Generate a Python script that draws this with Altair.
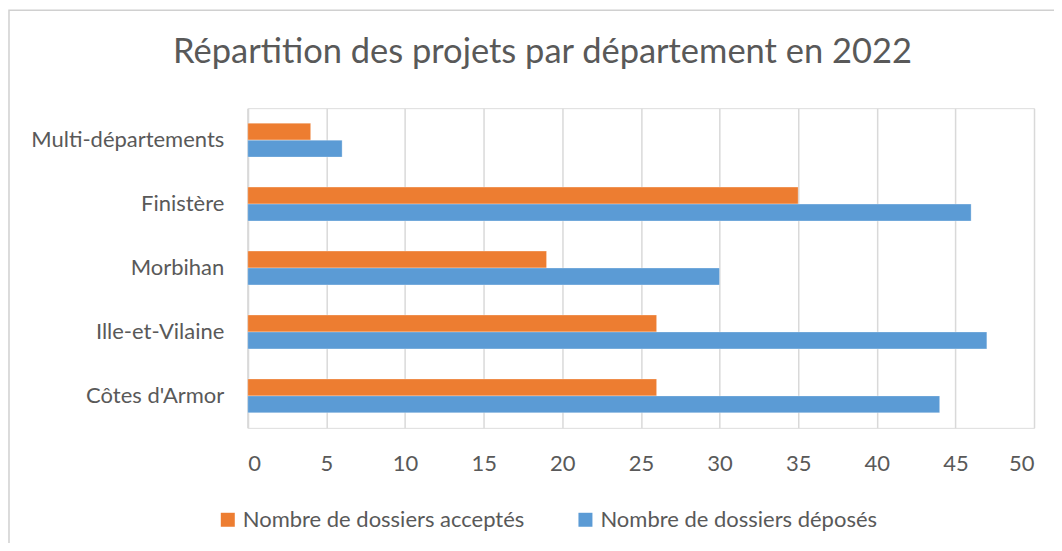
import altair as alt
import pandas as pd

categories = ["Multi-départements", "Finistère", "Morbihan", "Ille-et-Vilaine", "Côtes d'Armor"]
acceptes = [4, 35, 19, 26, 26]
deposes = [6, 46, 30, 47, 44]
series = ["Nombre de dossiers acceptés", "Nombre de dossiers déposés"]
colors = ["#ED7D31", "#5B9BD5"]
title_text = "Répartition des projets par département en 2022"

rows = []
for c, a, d in zip(categories, acceptes, deposes):
    rows.append({"dep": c, "serie": series[0], "val": a})
    rows.append({"dep": c, "serie": series[1], "val": d})
df = pd.DataFrame(rows)

FONT = "Lato"
GREY = "#595959"
FS = 22

bars = alt.Chart(df).mark_bar(stroke="white", strokeWidth=0.5, strokeOpacity=0.6).encode(
    x=alt.X("val:Q", scale=alt.Scale(domain=[0, 50], nice=False),
            axis=alt.Axis(values=list(range(0, 51, 5)), title=None, grid=True,
                          gridColor="#D9D9D9", gridWidth=1.5, domain=False, ticks=False,
                          labelPadding=26, labelFontSize=FS, labelColor=GREY, labelFont=FONT)),
    y=alt.Y("dep:N", sort=categories,
            scale=alt.Scale(paddingInner=0.47, paddingOuter=0.235),
            axis=alt.Axis(title=None, ticks=False, domain=True, domainColor="#D9D9D9",
                          domainWidth=2, labelPadding=24, labelFontSize=FS,
                          labelColor=GREY, labelFont=FONT, labelLimit=0)),
    yOffset=alt.YOffset("serie:N", sort=series),
    color=alt.Color("serie:N", scale=alt.Scale(domain=series, range=colors),
                    legend=alt.Legend(title=None, orient="none", legendX=-31, legendY=401,
                                      direction="horizontal", symbolType="square",
                                      symbolSize=196, symbolStrokeWidth=0,
                                      labelFontSize=FS, labelColor=GREY, labelFont=FONT,
                                      labelLimit=0, columnPadding=50, labelOffset=4)),
)

frame = alt.Chart(pd.DataFrame({"a": [0]})).mark_rect(
    fill="none", stroke="#D0D0D0", strokeWidth=1.5, clip=False
).encode(
    x=alt.value(-239), x2=alt.value(812), y=alt.value(-98), y2=alt.value(441)
)

title = alt.Chart(pd.DataFrame({"t": [title_text]})).mark_text(
    font=FONT, fontSize=34.5, color=GREY, align="center", baseline="middle"
).encode(
    text="t:N", x=alt.value(295), y=alt.value(-55)
)

chart = alt.layer(frame, title, bars).properties(
    width=787, height=320,
    autosize=alt.AutoSizeParams(type="none"),
    padding={"left": 240, "top": 100, "right": 20, "bottom": 115},
).configure_view(stroke=None).configure(background="white")

chart.save("out.html", embed_options={"renderer": "svg", "actions": False})
